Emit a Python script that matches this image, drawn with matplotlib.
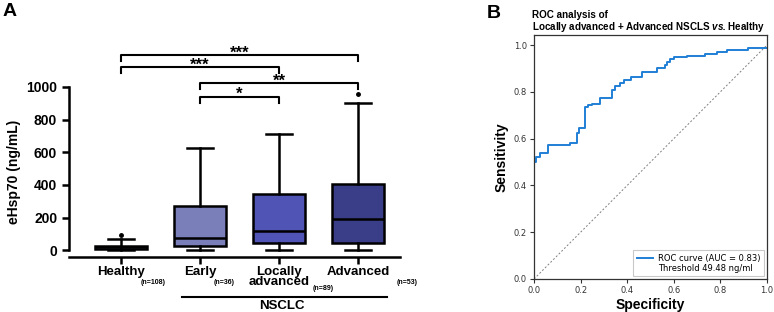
import matplotlib.pyplot as plt
from matplotlib.lines import Line2D

# ---- panel A: eHsp70 by group (box summary) ----
groups = ['Healthy', 'Early', 'Locally\nadvanced', 'Advanced']
group_n = ['(n=108)', '(n=36)', '(n=89)', '(n=53)']
q1 = [6, 26, 45, 47]
med = [17, 72, 118, 194]
q3 = [26, 270, 342, 403]
whis_lo = [0, 0, 0, 0]
whis_hi = [66, 628, 710, 904]
outliers = [[92], [], [], [959]]
box_colors = ['#8486c0', '#7b7fb9', '#5054b4', '#3a3d88']

# significance brackets: (group from, group to, label, height)
sig_from = [1, 1, 2, 2]
sig_to = [4, 3, 4, 3]
sig_label = ['***', '***', '**', '*']
sig_y = [1196, 1121, 1023, 940]

# ---- panel B: ROC curve (step points) ----
fpr = [0.0, 0.0, 0.008, 0.025, 0.062, 0.155, 0.183, 0.194, 0.219, 0.233,
       0.248, 0.283, 0.333, 0.348, 0.369, 0.386, 0.415, 0.462, 0.527, 0.562,
       0.572, 0.584, 0.601, 0.655, 0.734, 0.784, 0.827, 0.92, 1.0]
tpr = [0.0, 0.50, 0.52, 0.54, 0.571, 0.583, 0.625, 0.644, 0.734, 0.742,
       0.747, 0.775, 0.81, 0.825, 0.836, 0.85, 0.865, 0.886, 0.90, 0.915,
       0.929, 0.939, 0.947, 0.953, 0.962, 0.969, 0.979, 0.986, 0.986]
auc = 0.83
threshold = 49.48

ARIAL = 'Liberation Sans'
plt.rcParams['mathtext.fontset'] = 'custom'
plt.rcParams['mathtext.bfit'] = 'Liberation Sans:italic:bold'
plt.rcParams['mathtext.rm'] = 'Liberation Sans'

fig = plt.figure(figsize=(7.74, 3.12), dpi=100)

# ================= A =================
ax = fig.add_axes([69 / 774, 1 - 256.7 / 312, 331 / 774, 169.7 / 312])
pos = [1, 2, 3, 4]
stats = []
for i in range(4):
    stats.append(dict(med=med[i], q1=q1[i], q3=q3[i], whislo=whis_lo[i],
                      whishi=whis_hi[i], fliers=outliers[i]))
bp = ax.bxp(stats, positions=pos, widths=0.66, patch_artist=True,
            showfliers=True,
            boxprops=dict(linewidth=1.8, edgecolor='black'),
            whiskerprops=dict(linewidth=1.8),
            capprops=dict(linewidth=1.8),
            medianprops=dict(linewidth=1.8, color='black'),
            flierprops=dict(marker='o', markersize=2.5, markerfacecolor='black',
                            markeredgecolor='black'))
for patch, c in zip(bp['boxes'], box_colors):
    patch.set_facecolor(c)

ax.set_xlim(0.34, 4.53)
ax.set_ylim(-40, 1000)
ax.set_yticks([0, 200, 400, 600, 800, 1000])
for s in ['top', 'right']:
    ax.spines[s].set_visible(False)
for s in ['left', 'bottom']:
    ax.spines[s].set_linewidth(1.8)
ax.spines['left'].set_bounds(0, 1000)
ax.tick_params(width=1.8, length=5)
ax.tick_params(axis='x', pad=1.5)
ax.set_xticks(pos)
ax.set_xticklabels(groups, fontfamily=ARIAL, fontweight='bold', fontsize=9.5)
for t in ax.get_xticklabels():
    t.set_linespacing(0.8)
for t in ax.get_yticklabels():
    t.set_fontfamily(ARIAL)
    t.set_fontweight('bold')
    t.set_fontsize(10)
ax.set_ylabel('eHsp70 (ng/mL)', fontfamily=ARIAL, fontweight='bold',
              fontsize=10, labelpad=4)

# sample sizes as small subscripts
sub_dx = [0.40, 0.30, 0.56, 0.62]
sub_y = [-0.15, -0.15, -0.185, -0.15]
xt = ax.get_xaxis_transform()
for p, n, dx, yy in zip(pos, group_n, sub_dx, sub_y):
    ax.text(p + dx, yy, n, transform=xt, ha='center', va='center',
            fontsize=5, fontfamily=ARIAL, fontweight='bold')

# NSCLC grouping line
ax.add_line(Line2D([1.77, 4.365], [-0.237, -0.237], transform=xt,
                   color='black', lw=1.5, clip_on=False))
ax.text(3.03, -0.29, 'NSCLC', transform=xt, ha='center', va='center',
        fontfamily=ARIAL, fontweight='bold', fontsize=9.5)

# significance brackets
for a, b, lab, y in zip(sig_from, sig_to, sig_label, sig_y):
    ax.plot([a, a, b, b], [y - 37, y, y, y - 37], color='black', lw=1.5,
            clip_on=False)
    ax.text((a + b) / 2, y - 14, lab, ha='center', va='baseline',
            fontfamily=ARIAL, fontweight='bold', fontsize=12)

fig.text(3 / 774, 1 - 11 / 312, 'A', fontfamily=ARIAL, fontweight='bold',
         fontsize=14, va='center', ha='left')

# ================= B =================
ax2 = fig.add_axes([534 / 774, 1 - 279 / 312, 233 / 774, 244 / 312])
ax2.plot([0, 1], [0, 1], linestyle='--', color='gray', lw=0.7, dashes=(2, 2))
ax2.step(fpr, tpr, where='post', color='#1f7fd6', lw=1.4,
         label='ROC curve (AUC = %.2f)' % auc)
ax2.plot([], [], ' ', label='Threshold %.2f ng/ml' % threshold)
ax2.set_xlim(0, 1)
ax2.set_ylim(0, 1.043)
ax2.set_xticks([0, 0.2, 0.4, 0.6, 0.8, 1.0])
ax2.set_yticks([0, 0.2, 0.4, 0.6, 0.8, 1.0])
ax2.tick_params(labelsize=6, labelcolor='#333333', length=3, width=0.8,
                color='#333333', pad=2)
for s in ax2.spines.values():
    s.set_color('#333333')
    s.set_linewidth(0.9)
ax2.set_xlabel('Specificity', fontfamily=ARIAL, fontweight='bold',
               fontsize=10, labelpad=2)
ax2.set_ylabel('Sensitivity', fontfamily=ARIAL, fontweight='bold',
               fontsize=10, labelpad=4)
leg = ax2.legend(loc='lower right', fontsize=6, frameon=True,
                 handlelength=2.0, borderpad=0.4, labelspacing=0.15,
                 handletextpad=0.6, borderaxespad=0.35, fancybox=False)
leg.get_frame().set_edgecolor('#bbbbbb')
leg.get_frame().set_linewidth(0.8)

fig.text(532 / 774, 1 - 15 / 312, 'ROC analysis of', fontfamily=ARIAL,
         fontweight='bold', fontsize=7.1, va='center', ha='left')
fig.text(532 / 774, 1 - 27 / 312,
         'Locally advanced + Advanced NSCLS $\\mathbfit{vs.}$Healthy',
         fontfamily=ARIAL, fontweight='bold', fontsize=7.1, va='center',
         ha='left')
fig.text(487 / 774, 1 - 14 / 312, 'B', fontfamily=ARIAL, fontweight='bold',
         fontsize=14, va='center', ha='left')

fig.savefig('out.png', dpi=100)
